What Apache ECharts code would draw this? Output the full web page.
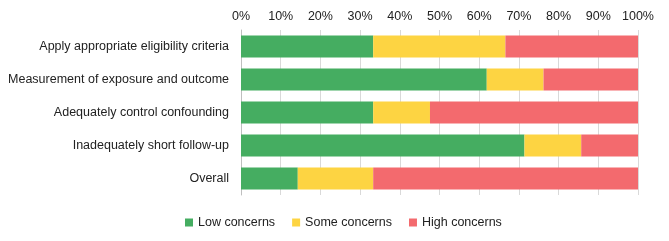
<!DOCTYPE html>
<html>
<head>
<meta charset="utf-8">
<script src="https://cdn.jsdelivr.net/npm/echarts@6/dist/echarts.min.js"></script>
<style>
  html, body { margin: 0; padding: 0; background: #fff; }
  #main { width: 669px; height: 241px; }
</style>
</head>
<body>
<div id="main"></div>
<script>
var categories = ['Apply appropriate eligibility criteria', 'Measurement of exposure and outcome',
  'Adequately control confounding', 'Inadequately short follow-up', 'Overall'];
var lowData = [33.3, 61.9, 33.3, 71.4, 14.3];
var someData = [33.3, 14.3, 14.3, 14.3, 19.0];
var highData = [33.4, 23.8, 52.4, 14.3, 66.7];
var seriesNames = ['Low concerns', 'Some concerns', 'High concerns'];

var myChart = echarts.init(document.getElementById('main'));
var font = 'Liberation Sans, Arial, sans-serif';

var option = {
  color: ['#45ad61', '#fdd442', '#f36a6e'],
  animation: false,
  grid: { left: 241, right: 31, top: 30, bottom: 46 },
  legend: {
    data: seriesNames,
    bottom: 7,
    left: 180,
    itemWidth: 8,
    itemHeight: 8,
    itemGap: 17,
    icon: 'rect',
    textStyle: { fontFamily: font, fontSize: 12.5, color: '#222' }
  },
  xAxis: {
    type: 'value',
    position: 'top',
    min: 0,
    max: 100,
    interval: 10,
    axisLine: { show: false },
    axisTick: { show: false },
    axisLabel: { formatter: '{value}%', fontFamily: font, fontSize: 12.5, color: '#222', margin: 7 },
    splitLine: { lineStyle: { color: '#d9d9d9' } }
  },
  yAxis: {
    type: 'category',
    inverse: true,
    data: categories,
    axisLine: { show: true, lineStyle: { color: '#bfbfbf' } },
    axisTick: { show: false },
    axisLabel: { fontFamily: font, fontSize: 12.5, color: '#222', margin: 12 }
  },
  series: [{
    name: seriesNames[0], type: 'bar', stack: 'total', barWidth: 22, data: lowData
  }, {
    name: seriesNames[1], type: 'bar', stack: 'total', barWidth: 22, data: someData
  }, {
    name: seriesNames[2], type: 'bar', stack: 'total', barWidth: 22, data: highData
  }]
};

myChart.setOption(option);
</script>
</body>
</html>
